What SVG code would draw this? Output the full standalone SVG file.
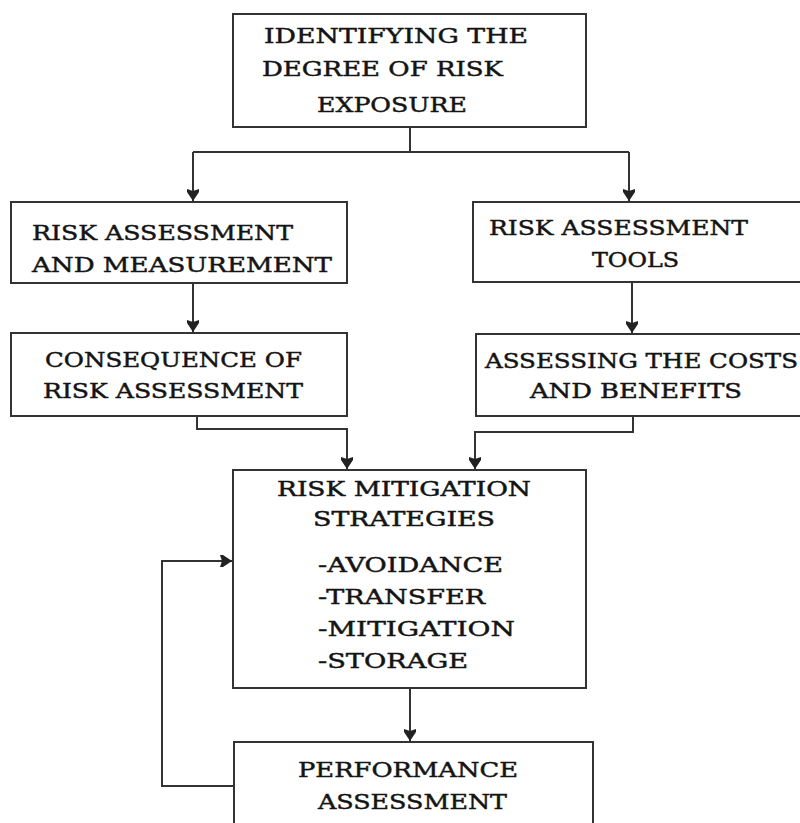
<svg xmlns="http://www.w3.org/2000/svg" width="800" height="823" viewBox="0 0 800 823">
<defs>
<marker id="arr" markerUnits="userSpaceOnUse" markerWidth="14" markerHeight="14" refX="12" refY="6" orient="auto">
<path d="M0,0 L3,0 L12,6 L3,12 L0,12 L2,6 Z" fill="#222"/>
</marker>
<style>
.box{fill:#fff;stroke:#333;stroke-width:2}
.c{fill:none;stroke:#333;stroke-width:2}
text{font-family:"DejaVu Serif","Liberation Serif",serif;font-size:20.5px;fill:#141414;stroke:#141414;stroke-width:0.45}
.s{font-size:19.5px}
</style>
</defs>
<rect width="800" height="823" fill="#fff"/>
<g id="connectors">
<path class="c" d="M410,127 V152"/>
<path class="c" d="M193,152 H629"/>
<path class="c" d="M193,152 V201" marker-end="url(#arr)"/>
<path class="c" d="M629,152 V201" marker-end="url(#arr)"/>
<path class="c" d="M193,283 V332" marker-end="url(#arr)"/>
<path class="c" d="M632,282 V333" marker-end="url(#arr)"/>
<path class="c" d="M197,416 V429 H347 V469" marker-end="url(#arr)"/>
<path class="c" d="M633,416 V432 H475 V469" marker-end="url(#arr)"/>
<path class="c" d="M410,688 V741" marker-end="url(#arr)"/>
<path class="c" d="M234,786 H162 V561 H232" marker-end="url(#arr)"/>
</g>
<g id="n1">
<rect class="box" x="233" y="14" width="353" height="113"/>
<text x="264" y="43" textLength="264" lengthAdjust="spacingAndGlyphs">IDENTIFYING THE</text>
<text x="262" y="76" textLength="241" lengthAdjust="spacingAndGlyphs">DEGREE OF RISK</text>
<text x="317" y="112" textLength="150" lengthAdjust="spacingAndGlyphs">EXPOSURE</text>
</g>
<g id="n2">
<rect class="box" x="11" y="202" width="336" height="81"/>
<text x="32" y="240" textLength="261" lengthAdjust="spacingAndGlyphs">RISK ASSESSMENT</text>
<text x="32" y="272" textLength="300" lengthAdjust="spacingAndGlyphs">AND MEASUREMENT</text>
</g>
<g id="n3">
<rect class="box" x="473" y="202" width="340" height="80"/>
<text x="489" y="235" textLength="259" lengthAdjust="spacingAndGlyphs">RISK ASSESSMENT</text>
<text x="592" y="267" textLength="87" lengthAdjust="spacingAndGlyphs">TOOLS</text>
</g>
<g id="n4">
<rect class="box" x="11" y="333" width="336" height="83"/>
<text x="45" y="367" textLength="257" lengthAdjust="spacingAndGlyphs">CONSEQUENCE OF</text>
<text x="43" y="398" textLength="260" lengthAdjust="spacingAndGlyphs">RISK ASSESSMENT</text>
</g>
<g id="n5">
<rect class="box" x="476" y="334" width="340" height="82"/>
<text x="485" y="368" textLength="313" lengthAdjust="spacingAndGlyphs">ASSESSING THE COSTS</text>
<text x="530" y="398" textLength="212" lengthAdjust="spacingAndGlyphs">AND BENEFITS</text>
</g>
<g id="n6">
<rect class="box" x="233" y="470" width="353" height="218"/>
<text class="s" x="277" y="496" textLength="254" lengthAdjust="spacingAndGlyphs">RISK MITIGATION</text>
<text class="s" x="313" y="526" textLength="182" lengthAdjust="spacingAndGlyphs">STRATEGIES</text>
<text x="318" y="572" textLength="185" lengthAdjust="spacingAndGlyphs">-AVOIDANCE</text>
<text x="318" y="604" textLength="167" lengthAdjust="spacingAndGlyphs">-TRANSFER</text>
<text x="318" y="636" textLength="197" lengthAdjust="spacingAndGlyphs">-MITIGATION</text>
<text x="318" y="668" textLength="150" lengthAdjust="spacingAndGlyphs">-STORAGE</text>
</g>
<g id="n7">
<rect class="box" x="234" y="742" width="359" height="100"/>
<text x="298" y="777" textLength="220" lengthAdjust="spacingAndGlyphs">PERFORMANCE</text>
<text x="318" y="809" textLength="189" lengthAdjust="spacingAndGlyphs">ASSESSMENT</text>
</g>
</svg>
